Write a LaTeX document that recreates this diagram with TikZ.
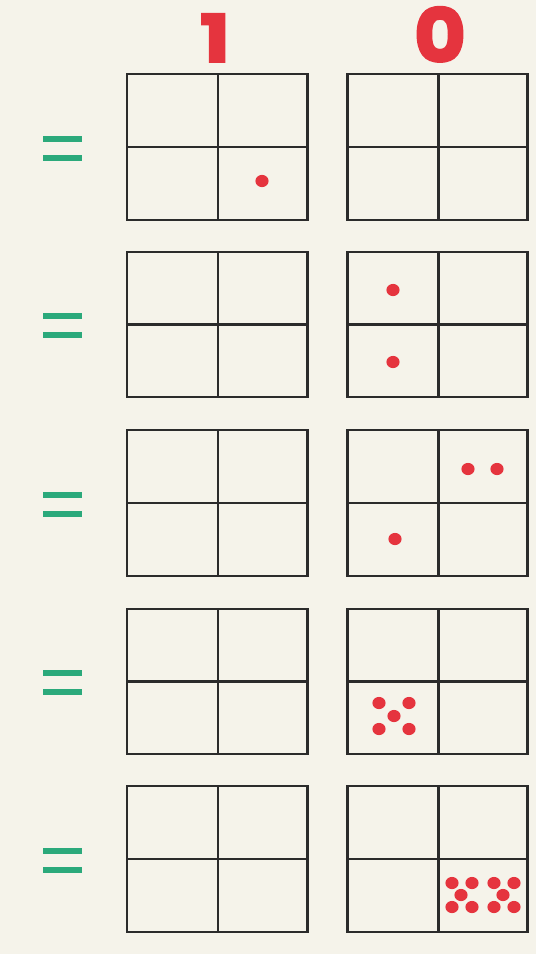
\documentclass[tikz,border=0pt]{standalone}
\usepackage{fontspec}
\newfontfamily\digitfont{Poppins}[FakeBold=3]
\definecolor{bg}{HTML}{F5F3EA}
\definecolor{redd}{HTML}{E5343E}
\definecolor{greenbar}{HTML}{2BA97B}
\definecolor{gridline}{HTML}{2B2B2B}
\begin{document}
\begin{tikzpicture}[x=1pt,y=-1pt,
  gridbox/.style={draw=gridline,line width=2.2pt},
  bead/.style={fill=redd},
  digit/.style={font=\digitfont\bfseries\fontsize{66}{66}\selectfont,text=redd,anchor=base,inner sep=0pt},
  bar/.style={fill=greenbar}]
\fill[bg] (0,0) rectangle (536,954);
\useasboundingbox (0,0) rectangle (536,954);
\node[digit,xscale=1.2] (one) at (215,62) {1};
\node[digit,xscale=1.2,yscale=1.12] (zero) at (440,62) {0};
\foreach \t/\b in {74/220,252/397,430/576,609/754,786/932}{
  \pgfmathsetmacro{\m}{(\t+\b)/2}
  \draw[gridbox] (127,\t) rectangle (307.5,\b);
  \draw[gridbox] (218,\t) -- (218,\b);
  \draw[gridbox] (127,\m) -- (307.5,\m);
  \draw[gridbox] (347.5,\t) rectangle (527.5,\b);
  \draw[gridbox] (438.5,\t) -- (438.5,\b);
  \draw[gridbox] (347.5,\m) -- (527.5,\m);
  \fill[bar] (43,\m-11.5) rectangle (82,\m-5.5);
  \fill[bar] (43,\m+7.5) rectangle (82,\m+13.5);
}
\foreach \p in {(262,181),(393,290),(393,362),(468,469),(497,469),(395,539),
  (379,703),(409,703),(394,716),(379,729),(409,729),
  (452,883),(472,883),(461,895),(452,907),(472,907),
  (494,883),(514,883),(503,895),(494,907),(514,907)}{
  \fill[bead] \p ellipse [x radius=6.6pt, y radius=6.1pt];
}
\end{tikzpicture}
\end{document}
